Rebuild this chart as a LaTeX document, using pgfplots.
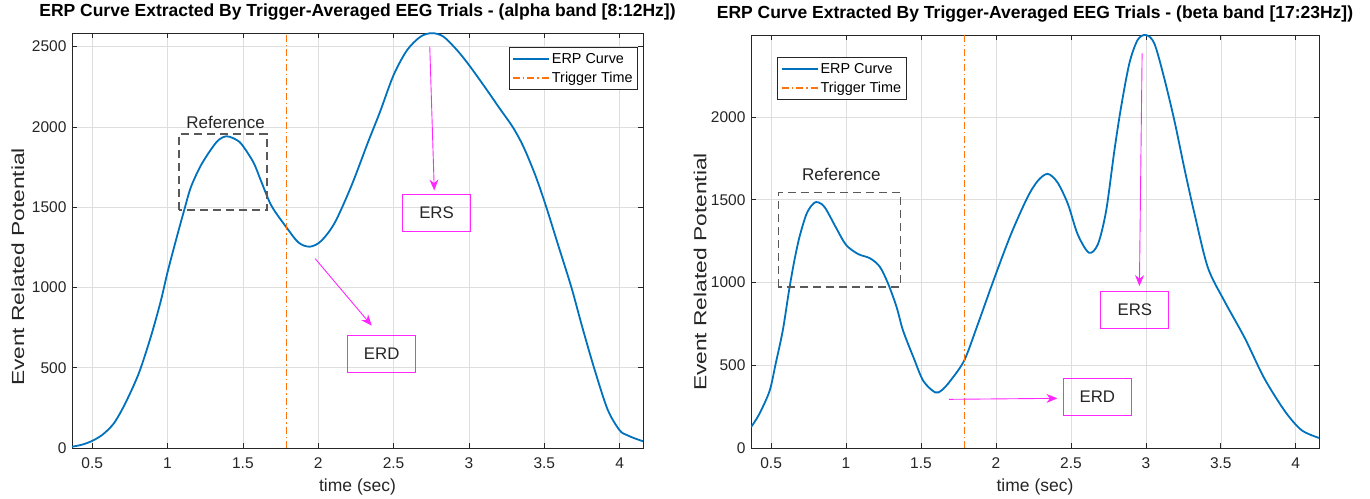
\documentclass[border=0pt]{standalone}
\usepackage{fontspec}
\setmainfont{Liberation Sans}
\usepackage{graphicx}
\usepackage{pgfplots}
\pgfplotsset{compat=1.18}
\usetikzlibrary{arrows.meta}
\definecolor{mblue}{rgb}{0,0.447,0.741}
\definecolor{morange}{rgb}{1,0.45,0.05}
\definecolor{mgray}{rgb}{0.15,0.15,0.15}
\definecolor{mmag}{rgb}{1,0.15,1}
\definecolor{refgray}{rgb}{0.35,0.35,0.35}

\pgfplotsset{
  erp/.style={
    scale only axis,
    anchor=south west,
    xmin=0.366, xmax=4.155,
    ymin=0,
    xtick={0.5,1,...,4},
    ytick={0,500,...,2500},
    grid=major,
    major grid style={draw=black!13, line width=0.6pt},
    tick align=inside,
    major tick length=5pt,
    axis line style={mgray, line width=0.7pt},
    every tick/.style={mgray, line width=0.7pt},
    tick label style={font=\fontsize{15.5}{17}\selectfont, text=mgray},
    xticklabel style={yshift=-6pt},
    yticklabel style={xshift=-2pt},
    /pgf/number format/assume math mode=true,
    /pgf/number format/1000 sep={},
    scaled ticks=false,
    title style={font=\bfseries\fontsize{17.5}{19}\selectfont, text=black, at={(axis description cs:0.5,1)}, anchor=center, yshift=15pt},
    xlabel={time (sec)}, ylabel={\scalebox{1.3}[1]{Event Related Potential}},
    label style={font=\fontsize{17.5}{19}\selectfont, text=mgray},
    xlabel style={at={(axis description cs:0.5,0)}, anchor=center, yshift=-39pt},
    legend style={font=\fontsize{14.4}{16}\selectfont, draw=mgray, line width=0.7pt, inner xsep=3pt, inner ysep=4pt, row sep=3pt},
    legend cell align=left,
    legend image code/.code={\draw[#1, line width=2.1pt] (0pt,0pt) -- (36pt,0pt);},
  },
}
\tikzset{
  ann/.style={draw=mmag, line width=0.9pt, -{Stealth[length=11pt,width=9pt]}},
  abox/.style={draw=mmag, line width=0.9pt, minimum width=68pt, minimum height=37pt, inner sep=0pt, font=\fontsize{16.8}{18}\selectfont, text=black!85},
  rbox/.style={draw=refgray, line width=1.3pt, dash pattern=on 8pt off 5pt},
}

\begin{document}
\begin{tikzpicture}
\useasboundingbox (0,0) rectangle (1370pt,498pt);
% ---------------- left: alpha band
\begin{axis}[erp, at={(72pt,50pt)}, width=571pt, height=415pt, ymax=2585,
  ylabel style={at={(axis description cs:-0.0946,0.436)}, anchor=center},
  title={ERP Curve Extracted By Trigger-Averaged EEG Trials - (alpha band [8:12Hz])},
  legend style={at={(0.991,0.967)}, anchor=north east}]
\addplot[mblue, line width=1.8pt, smooth] coordinates {
(0.366,8) (0.43,20) (0.49,40) (0.566,81) (0.644,154) (0.72,279) (0.81,467)
(0.89,696) (0.955,915) (1.0,1095) (1.056,1295) (1.11,1480) (1.155,1625)
(1.22,1758) (1.29,1862) (1.34,1920) (1.39,1942) (1.44,1928) (1.49,1894)
(1.57,1779) (1.62,1664) (1.69,1508) (1.79,1373) (1.87,1279) (1.945,1254)
(2.02,1290) (2.11,1404) (2.22,1633) (2.33,1904) (2.41,2094) (2.5,2323)
(2.59,2479) (2.68,2563) (2.755,2584) (2.83,2563) (2.92,2479) (3.0,2386)
(3.12,2229) (3.2,2120) (3.29,2000) (3.36,1880) (3.44,1700) (3.51,1510)
(3.59,1270) (3.68,1000) (3.75,760) (3.83,500) (3.92,240) (4.0,110)
(4.05,80) (4.1,60) (4.155,42)};
\addlegendentry{ERP Curve}
\addplot[morange, line width=1.8pt, dash pattern=on 7pt off 3pt on 1.5pt off 3pt] coordinates {(1.79,0) (1.79,2585)};
\addlegendentry{Trigger Time}
\draw[rbox] (axis cs:1.077,1483) rectangle (axis cs:1.66,1956);
\node[font=\fontsize{17}{19}\selectfont, text=black!85] at (axis cs:1.385,2030) {Reference};
\draw[ann] (axis cs:2.74,2500) -- (axis cs:2.77,1604);
\node[abox] at (axis cs:2.785,1465) {ERS};
\draw[ann] (axis cs:1.98,1179) -- (axis cs:2.355,762);
\node[abox] at (axis cs:2.421,585) {ERD};
\end{axis}
% ---------------- right: beta band
\begin{axis}[erp, at={(751pt,50pt)}, width=568pt, height=413pt, ymax=2495,
  ylabel style={at={(axis description cs:-0.0898,0.426)}, anchor=center},
  title={ERP Curve Extracted By Trigger-Averaged EEG Trials - (beta band [17:23Hz])},
  legend style={at={(0.046,0.947)}, anchor=north west}]
\addplot[mblue, line width=1.8pt, smooth] coordinates {
(0.366,126) (0.42,203) (0.49,345) (0.53,507) (0.578,710) (0.62,953)
(0.656,1136) (0.69,1277) (0.734,1409) (0.77,1465) (0.80,1486) (0.835,1475)
(0.868,1440) (0.935,1328) (1.0,1227) (1.08,1172) (1.16,1146) (1.225,1095)
(1.28,994) (1.337,852) (1.38,710) (1.45,547) (1.515,406) (1.594,336)
(1.64,350) (1.70,411) (1.79,532) (1.878,745) (1.99,1028) (2.1,1291)
(2.21,1514) (2.28,1615) (2.345,1656) (2.41,1605) (2.48,1474) (2.545,1291)
(2.62,1180) (2.68,1231) (2.735,1433) (2.79,1797) (2.835,2061) (2.89,2324)
(2.945,2465) (3.0,2495) (3.056,2445) (3.12,2243) (3.19,1979) (3.26,1676)
(3.325,1413) (3.414,1089) (3.525,886) (3.66,664) (3.79,421) (3.93,219)
(4.04,107) (4.155,61)};
\addlegendentry{ERP Curve}
\addplot[morange, line width=1.8pt, dash pattern=on 7pt off 3pt on 1.5pt off 3pt] coordinates {(1.79,0) (1.79,2495)};
\addlegendentry{Trigger Time}
\draw[rbox] (axis cs:0.549,973) rectangle (axis cs:1.361,1545);
\node[font=\fontsize{17}{19}\selectfont, text=black!85] at (axis cs:0.969,1650) {Reference};
\draw[ann] (axis cs:1.688,294) -- (axis cs:2.41,300);
\node[abox] at (axis cs:2.676,310) {ERD};
\draw[ann] (axis cs:2.975,2384) -- (axis cs:2.957,978);
\node[abox] at (axis cs:2.927,836) {ERS};
\end{axis}
\end{tikzpicture}
\end{document}
